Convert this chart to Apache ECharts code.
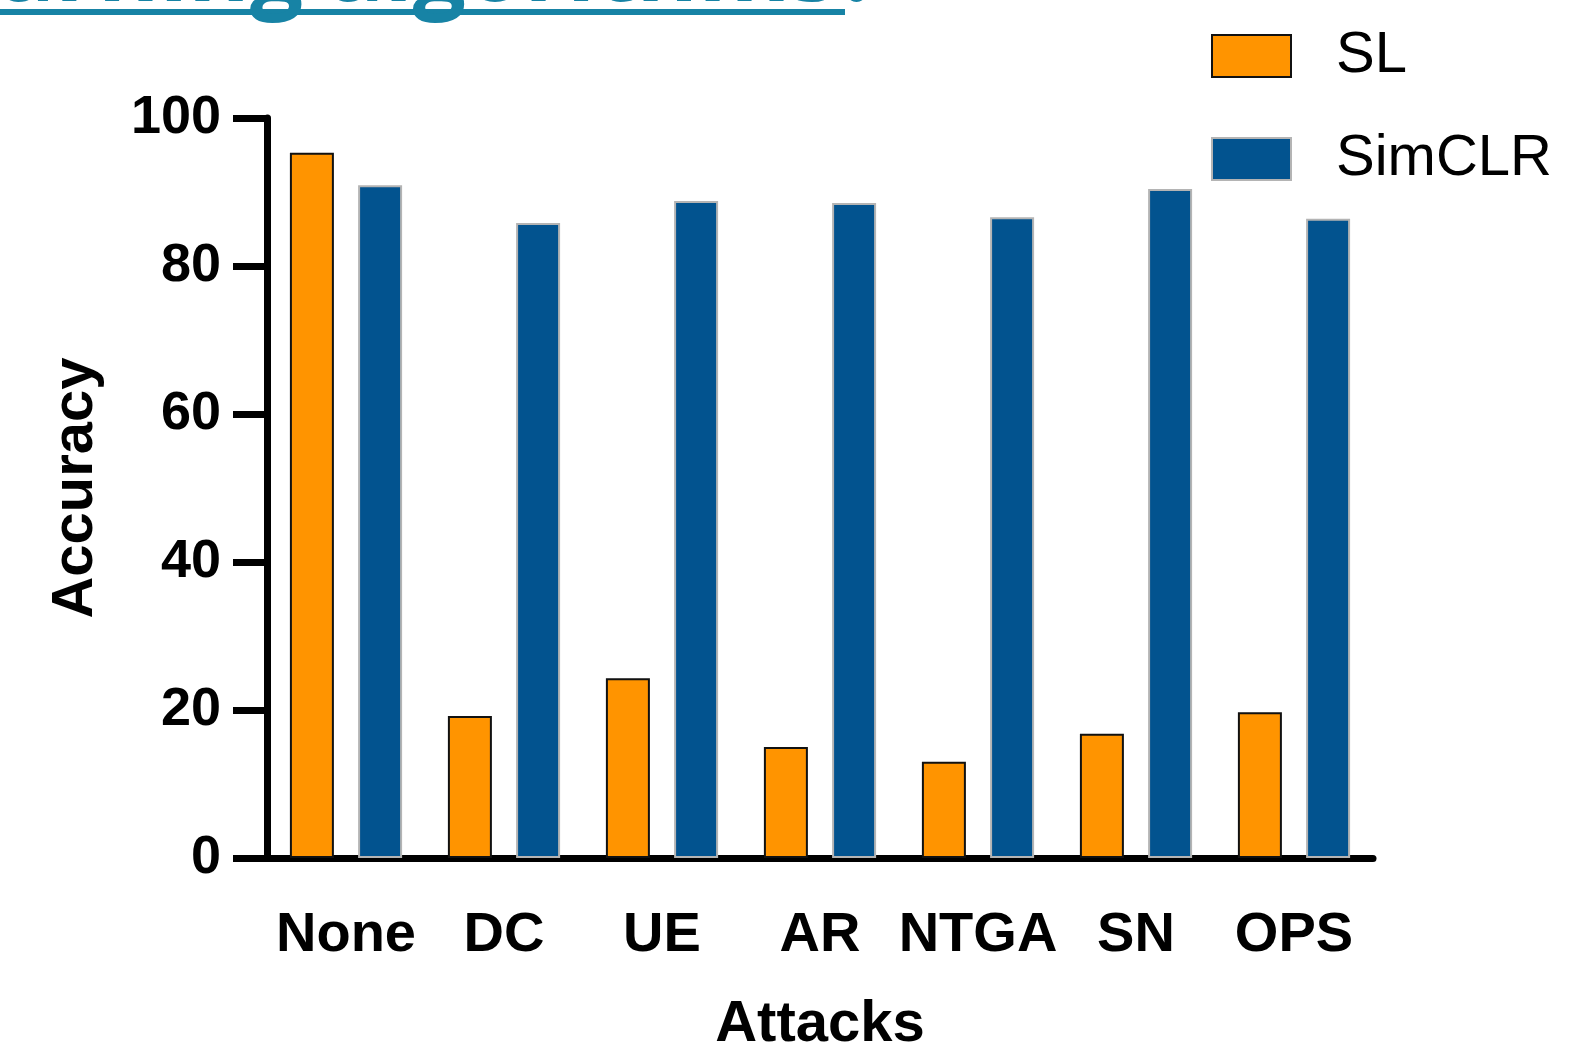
<!DOCTYPE html>
<html>
<head>
<meta charset="utf-8">
<script src="https://cdn.jsdelivr.net/npm/echarts@6/dist/echarts.min.js"></script>
<style>html,body{margin:0;padding:0;background:#fff;overflow:hidden}#c{width:1570px;height:1043px}</style>
</head>
<body>
<div id="c"></div>
<script>
const categories = ['None', 'DC', 'UE', 'AR', 'NTGA', 'SN', 'OPS'];
const slValues = [95.3, 19.2, 24.3, 15.0, 13.0, 16.8, 19.7];
const simclrValues = [90.9, 85.8, 88.8, 88.5, 86.6, 90.4, 86.4];
const yTicks = [0, 20, 40, 60, 80, 100];

const chart = echarts.init(document.getElementById('c'), null, {renderer: 'canvas', width: 1570, height: 1043});
const FONT = '"Liberation Sans", Arial, sans-serif';
chart.setOption({
  animation: false,
  backgroundColor: '#ffffff',
  graphic: [
    {type: 'rect', left: 0, top: 9, shape: {width: 845, height: 6}, style: {fill: '#1783a5'}},
    {type: 'text', right: 1570 - 882, top: -73, style: {text: 'learning algorithms?', font: 'bold 94px "Open Sans", sans-serif', fill: '#1783a5'}}
  ],
  legend: {
    orient: 'vertical', left: 1206, top: 22, itemWidth: 79, itemHeight: 42, itemGap: 45,
    icon: 'rect',
    textStyle: {fontFamily: FONT, fontSize: 58, color: '#000', padding: [0, 0, 0, 40]},
    data: ['SL', 'SimCLR']
  },
  grid: {left: 267, right: 197, top: 118, bottom: 185, containLabel: false, outerBoundsMode: 'none'},
  xAxis: {
    type: 'category', data: categories,
    name: 'Attacks', nameLocation: 'middle', nameGap: 138,
    nameTextStyle: {fontFamily: FONT, fontSize: 58, fontWeight: 'bold', color: '#000'},
    axisLine: {lineStyle: {color: '#000', width: 7}},
    axisTick: {alignWithLabel: true, length: 32, lineStyle: {color: '#000', width: 7}},
    axisLabel: {fontFamily: FONT, fontSize: 56, fontWeight: 'bold', color: '#000', margin: 50, interval: 0}
  },
  yAxis: {
    type: 'value', min: yTicks[0], max: yTicks[yTicks.length - 1], interval: 20,
    name: 'Accuracy', nameLocation: 'middle', nameGap: 162, nameRotate: 90,
    nameTextStyle: {fontFamily: FONT, fontSize: 58, fontWeight: 'bold', color: '#000'},
    splitLine: {show: false},
    axisLine: {show: true, lineStyle: {color: '#000', width: 7}},
    axisTick: {show: true, length: 34, lineStyle: {color: '#000', width: 7}},
    axisLabel: {fontFamily: FONT, fontSize: 54, fontWeight: 'bold', color: '#000', margin: 46}
  },
  series: [
    {name: 'SL', type: 'bar', data: slValues, barWidth: 44, barGap: '55%',
     itemStyle: {color: '#FF9400', borderColor: '#111', borderWidth: 2}},
    {name: 'SimCLR', type: 'bar', data: simclrValues, barWidth: 44,
     itemStyle: {color: '#02538F', borderColor: '#b4b4b4', borderWidth: 2}}
  ]
});
</script>
</body>
</html>
